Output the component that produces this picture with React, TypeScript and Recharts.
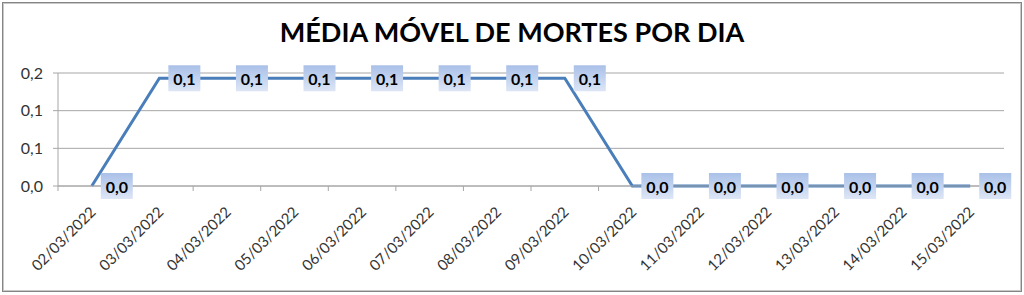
import React from "react";
import { LineChart, Line, XAxis, YAxis, CartesianGrid, LabelList } from "recharts";

const TITLE = "MÉDIA MÓVEL DE MORTES POR DIA";
const CATEGORIES = [
  "02/03/2022", "03/03/2022", "04/03/2022", "05/03/2022", "06/03/2022", "07/03/2022", "08/03/2022",
  "09/03/2022", "10/03/2022", "11/03/2022", "12/03/2022", "13/03/2022", "14/03/2022", "15/03/2022",
];
const VALUES = [0, 0.143, 0.143, 0.143, 0.143, 0.143, 0.143, 0.143, 0, 0, 0, 0, 0, 0];
const Y_TICKS = [0, 0.05, 0.1, 0.15];

const data = CATEGORIES.map((d, i) => ({ date: d, value: VALUES[i] }));

const W = 1024;
const H = 295;
const MARGIN = { top: 73, right: 20, bottom: 9, left: 8 };
const Y_AXIS_W = 50;
const X_AXIS_H = 100;
const PLOT_W = W - MARGIN.left - MARGIN.right - Y_AXIS_W;
const HALF_BAND = PLOT_W / CATEGORIES.length / 2;

const FONT = "Lato, 'Open Sans', sans-serif";
const GRID = "#a6a6a6";
const TICK_COLOR = "#333333";

const fmt = (v: number) => (Math.round(v * 10) / 10).toFixed(1).replace(".", ",");

const XTick = (props: any) => {
  const { x, y, payload, index } = props;
  const tx = x + 5;
  const ty = y + 27;
  return (
    <g>
      <line x1={x - HALF_BAND} y1={y} x2={x - HALF_BAND} y2={y + 5} stroke={GRID} />
      {index === CATEGORIES.length - 1 && (
        <line x1={x + HALF_BAND} y1={y} x2={x + HALF_BAND} y2={y + 5} stroke={GRID} />
      )}
      <text
        x={tx}
        y={ty}
        transform={`rotate(-45, ${tx}, ${ty})`}
        textAnchor="end"
        fontFamily={FONT}
        fontSize={15}
        fill={TICK_COLOR}
      >
        {payload.value}
      </text>
    </g>
  );
};

const DataLabel = (props: any) => {
  const { x, y, value } = props;
  const bx = x + 9;
  const by = y - 13;
  return (
    <g>
      <rect x={bx} y={by} width={32} height={26} fill="url(#lblGrad)" />
      <text
        x={bx + 16}
        y={by + 13}
        textAnchor="middle"
        dominantBaseline="central"
        fontFamily={FONT}
        fontWeight="bold"
        fontSize={16}
        fill="#000"
      >
        {fmt(value)}
      </text>
    </g>
  );
};

export default function App() {
  return (
    <div style={{ position: "absolute", left: 0, top: 0, width: W, height: H, background: "#fff" }}>
      <div
        style={{
          position: "absolute",
          left: 2,
          top: 2,
          width: 1018,
          height: 288,
          border: "1px solid #858585",
          boxShadow: "inset 0 0 0 1px #c8c8c8",
        }}
      />
      <div
        style={{
          position: "absolute",
          left: 0,
          top: 14,
          width: W,
          textAlign: "center",
          fontFamily: FONT,
          fontWeight: "bold",
          fontSize: 27,
          lineHeight: "36px",
          color: "#000",
        }}
      >
        {TITLE}
      </div>
      <div style={{ position: "absolute", left: 0, top: 0 }}>
        <LineChart width={W} height={H} data={data} margin={MARGIN}>
          <defs>
            <linearGradient id="lblGrad" x1="0" y1="0" x2="0" y2="1">
              <stop offset="0%" stopColor="#a9c0e8" />
              <stop offset="100%" stopColor="#dde6f6" />
            </linearGradient>
          </defs>
          <CartesianGrid horizontal vertical={false} stroke={GRID} strokeDasharray="" />
          <XAxis
            dataKey="date"
            height={X_AXIS_H}
            padding={{ left: HALF_BAND, right: HALF_BAND }}
            interval={0}
            tickLine={false}
            tickSize={0}
            tickMargin={0}
            axisLine={{ stroke: GRID }}
            tick={<XTick />}
          />
          <YAxis
            type="number"
            width={Y_AXIS_W}
            domain={[0, 0.15]}
            ticks={Y_TICKS}
            interval={0}
            tickFormatter={fmt}
            tickSize={5}
            tickMargin={10}
            tickLine={{ stroke: GRID }}
            axisLine={{ stroke: GRID }}
            tick={{ fontFamily: FONT, fontSize: 16, fill: TICK_COLOR }}
          />
          <Line
            type="linear"
            dataKey="value"
            stroke="#4a7ebb"
            strokeWidth={3}
            dot={false}
            isAnimationActive={false}
          >
            <LabelList dataKey="value" content={<DataLabel />} />
          </Line>
        </LineChart>
      </div>
    </div>
  );
}
